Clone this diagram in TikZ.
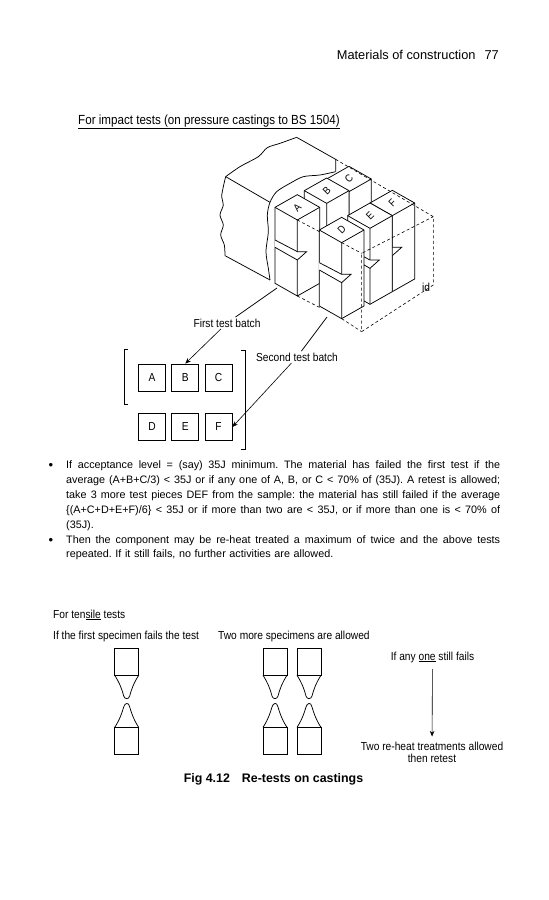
\documentclass[tikz,border=0pt]{standalone}
\usepackage{fontspec}
\setmainfont{Liberation Sans}
\newfontfamily\labelfont[FakeStretch=0.88]{Liberation Sans}
\usetikzlibrary{arrows.meta,positioning,calc}
\newcommand{\fullline}[1]{\makebox[434pt][s]{\spaceskip=0pt\xspaceskip=0pt #1}}
% one test piece: label, front corner of the top face
\newcommand{\testblock}[3]{%
  \begin{scope}[shift={(#2,#3)}]
    \filldraw[part line,fill=white] (-67,-38) -- (-67,190) -- (0,228) -- (67,190) -- (67,-38) -- (0,-76) -- cycle;
    \draw[part line] (-67,-38) -- (0,0) -- (67,-38) (0,0) -- (0,228);
    \fill[white] (-68,59) -- (0,95) -- (28,95) -- (0,120) -- (-68,82) -- cycle;
    \draw[part line] (-67,60) -- (0,95) -- (28,95) -- (0,120) -- (-67,82);
    \node[block label] (piece#1) at (0,-38) {#1};
  \end{scope}}
\tikzset{
  part line/.style={line width=0.75pt,draw=black},
  hidden line/.style={line width=0.6pt,draw=black,dash pattern=on 3pt off 2.5pt},
  block label/.style={font=\labelfont\fontsize{10.5}{12}\selectfont,rotate=45,inner sep=0pt},
  page text/.style={font=\fontsize{10.8}{15}\selectfont,anchor=north west,inner sep=0pt,text width=440pt,align=left},
  fig label/.style={font=\labelfont\fontsize{11.6}{12}\selectfont,inner sep=1.5pt},
  batch box/.style={draw=black,line width=0.75pt,minimum size=27pt,inner sep=0pt,font=\labelfont\fontsize{11.6}{12}\selectfont},
  batch arrow/.style={-{Stealth[length=2mm,width=1.6mm]},line width=0.6pt}
}
\begin{document}
\begin{tikzpicture}[x=1pt,y=-1pt]
\useasboundingbox (0,0) rectangle (549,900);
\frenchspacing
% page heading
\node[anchor=east,inner sep=0pt,font=\fontsize{12.8}{15}\selectfont] (pagehead) at (499,55) {Materials of construction\hspace{9pt}77};
\node[fig label,anchor=west,inner sep=0pt,font=\labelfont\fontsize{13.2}{15}\selectfont] (impacttitle) at (78,122) {\underline{For impact tests (on pressure castings to BS 1504)}};

% casting with the test pieces, in 1/3 point units
\begin{scope}[shift={(190,125)},x=0.3333pt,y=-0.3333pt]
\draw[part line] (107,155) -- (240,232);
\draw[part line] (320,37) -- (437,103) -- (437,140);
\draw[part line] plot[smooth] coordinates {(107,155) (150,125) (205,95) (232,68) (270,55) (320,37)};
\draw[part line] plot[smooth] coordinates {(107,155) (100,185) (95,215) (100,240) (90,270) (100,300) (92,330) (103,360) (105,392)};
\draw[part line] (105,392) -- (240,465);
\draw[part line] plot[smooth] coordinates {(437,140) (390,150) (340,155) (300,175) (260,200) (240,232) (232,270) (235,320) (228,380) (235,430) (240,465)};
\testblock{C}{477}{200}
\testblock{B}{410}{235}
\testblock{F}{607}{272}
\testblock{E}{540}{310}
\testblock{A}{322}{285}
\testblock{D}{455}{353}
\draw[hidden line] (437,103) -- (730,275) -- (730,480) -- (515,620) -- (515,385) -- (730,275);
\draw[hidden line] (322,285) -- (392,322) (455,353) -- (515,385);
\draw[hidden line] (322,513) -- (390,548) (455,581) -- (515,620);
\node[fig label] (iddim) at (708,487) {id};
\end{scope}

% batches
\node[batch box] (A) at (152,377.5) {A};
\node[batch box,right=5.5pt of A] (B) {B};
\node[batch box,right=5.5pt of B] (C) {C};
\node[batch box] (D) at (152,427) {D};
\node[batch box,right=5.5pt of D] (E) {E};
\node[batch box,right=5.5pt of E] (F) {F};
\draw[part line] (128,349) -- (124,349) -- (124,404) -- (128,404);
\draw[part line] (241,350) -- (245,350) -- (245,449) -- (241,449);
\coordinate (firstfrom) at (277,288);
\coordinate (secondfrom) at (327,317);
\node[fig label] (firstlabel) at (227,323) {First test batch};
\node[fig label] (secondlabel) at (297,357) {Second test batch};
\draw[part line] (firstfrom) -- (firstlabel);
\draw[batch arrow] (firstlabel) -- (B.north);
\draw[part line] (secondfrom) -- (secondlabel);
\draw[batch arrow] (secondlabel) -- (F.east);

% text
\node[inner sep=0pt,font=\fontsize{13}{12}\selectfont] (bulletone) at (51,466.5) {\textbullet};
\node[page text] (paraone) at (66,460) {\fullline{If acceptance level = (say) 35J minimum. The material has failed the first test if the}\\
\fullline{average (A+B+C/3) < 35J or if any one of A, B, or C < 70\% of (35J). A retest is allowed;}\\
\fullline{take 3 more test pieces DEF from the sample: the material has still failed if the average}\\
\fullline{\{(A+C+D+E+F)/6\} < 35J or if more than two are < 35J, or if more than one is < 70\% of}\\
(35J).};
\node[inner sep=0pt,font=\fontsize{13}{12}\selectfont] (bullettwo) at (51,541.5) {\textbullet};
\node[page text,font=\fontsize{10.8}{14}\selectfont] (paratwo) at (66,535.5) {\fullline{Then the component may be re-heat treated a maximum of twice and the above tests}\\
repeated. If it still fails, no further activities are allowed.};

% tensile specimens
\node[fig label,anchor=west,inner sep=0pt] (tensiletitle) at (53,615) {For ten\underline{sile} tests};
\node[fig label,anchor=west,inner sep=0pt] (firstfails) at (53,636) {If the first specimen fails the test};
\node[fig label,anchor=west,inner sep=0pt] (twomore) at (218,636) {Two more specimens are allowed};
\foreach \cx in {126.7,275,309}{
  \draw[part line] (\cx-12,675.3) -- (\cx-12,648.3) -- (\cx+12,648.3) -- (\cx+12,675.3) -- cycle;
  \draw[part line] (\cx-12,675.3) .. controls (\cx-7,683) and (\cx-4.5,690) .. (\cx-3,696) .. controls (\cx-2,699.5) and (\cx+2,699.5) .. (\cx+3,696) .. controls (\cx+4.5,690) and (\cx+7,683) .. (\cx+12,675.3);
  \draw[part line] (\cx-12,727.3) .. controls (\cx-7,720) and (\cx-4.5,712) .. (\cx-3,707) .. controls (\cx-2,703) and (\cx+2,701.5) .. (\cx+3,707) .. controls (\cx+4.5,712) and (\cx+7,720) .. (\cx+12,727.3);
  \draw[part line] (\cx-12,727.3) rectangle (\cx+12,754.7);
}
\node[fig label] (anyfails) at (432.5,657) {If any \underline{one} still fails};
\node[fig label,align=center,inner sep=0pt] (reheat) at (432,752) {Two re-heat treatments allowed\\then retest};
\draw[batch arrow,shorten <=5pt,shorten >=5pt] (anyfails) -- (reheat);
\node[inner sep=0pt,font=\bfseries\fontsize{12.4}{15}\selectfont] (caption) at (273.5,779) {Fig 4.12\hspace{12pt}Re-tests on castings};
\end{tikzpicture}
\end{document}
